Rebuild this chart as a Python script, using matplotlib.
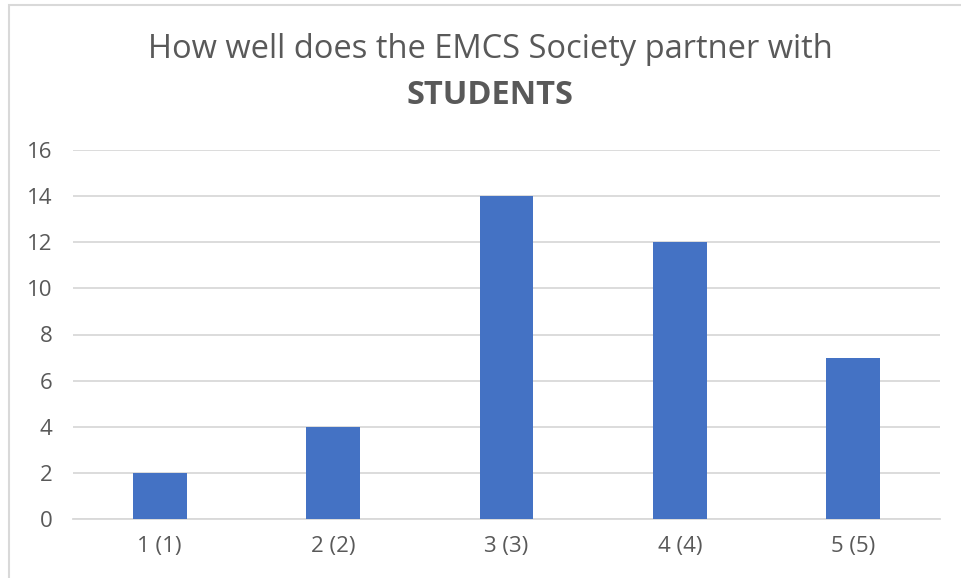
import matplotlib.pyplot as plt
from matplotlib.patches import Rectangle

categories = ['1 (1)', '2 (2)', '3 (3)', '4 (4)', '5 (5)']
counts = [2, 4, 14, 12, 7]
y_ticks = [0, 2, 4, 6, 8, 10, 12, 14, 16]

TEXT = '#595959'
GRID = '#d9d9d9'
BAR = '#4472C4'

plt.rcParams['font.family'] = ['Open Sans', 'DejaVu Sans']

fig = plt.figure(figsize=(9.61, 5.78), dpi=100)
ax = fig.add_axes([73 / 961, 1 - 519 / 578, 867 / 961, 369 / 578])

# chart border (only top/left visible in the crop)
fig.patches.append(Rectangle((9 / 961, -0.1), 1.2, 1 - 5 / 578 + 0.1,
                             transform=fig.transFigure, fill=False,
                             edgecolor=GRID, linewidth=1.5))

x = range(len(categories))
ax.bar(x, counts, width=0.31, color=BAR, zorder=3)

ax.set_xlim(-0.5, len(categories) - 0.5)
ax.set_ylim(0, 16)
ax.set_yticks(y_ticks)
ax.set_xticks(list(x), categories)
ax.yaxis.grid(True, color=GRID, linewidth=1.3, zorder=0)
ax.tick_params(length=0, labelsize=16, labelcolor=TEXT)
ax.tick_params(axis='y', pad=15)
ax.tick_params(axis='x', pad=12)
for side in ['top', 'right', 'left']:
    ax.spines[side].set_visible(False)
ax.spines['bottom'].set_color(GRID)
ax.spines['bottom'].set_linewidth(1.3)

fig.text(490 / 961, 1 - 49 / 578, 'How well does the EMCS Society partner with',
         ha='center', va='center', fontsize=23.5, color=TEXT)
fig.text(490 / 961, 1 - 95 / 578, 'STUDENTS', ha='center', va='center',
         fontsize=23.5, fontweight='bold', color=TEXT)

fig.savefig('out.png', dpi=100)
